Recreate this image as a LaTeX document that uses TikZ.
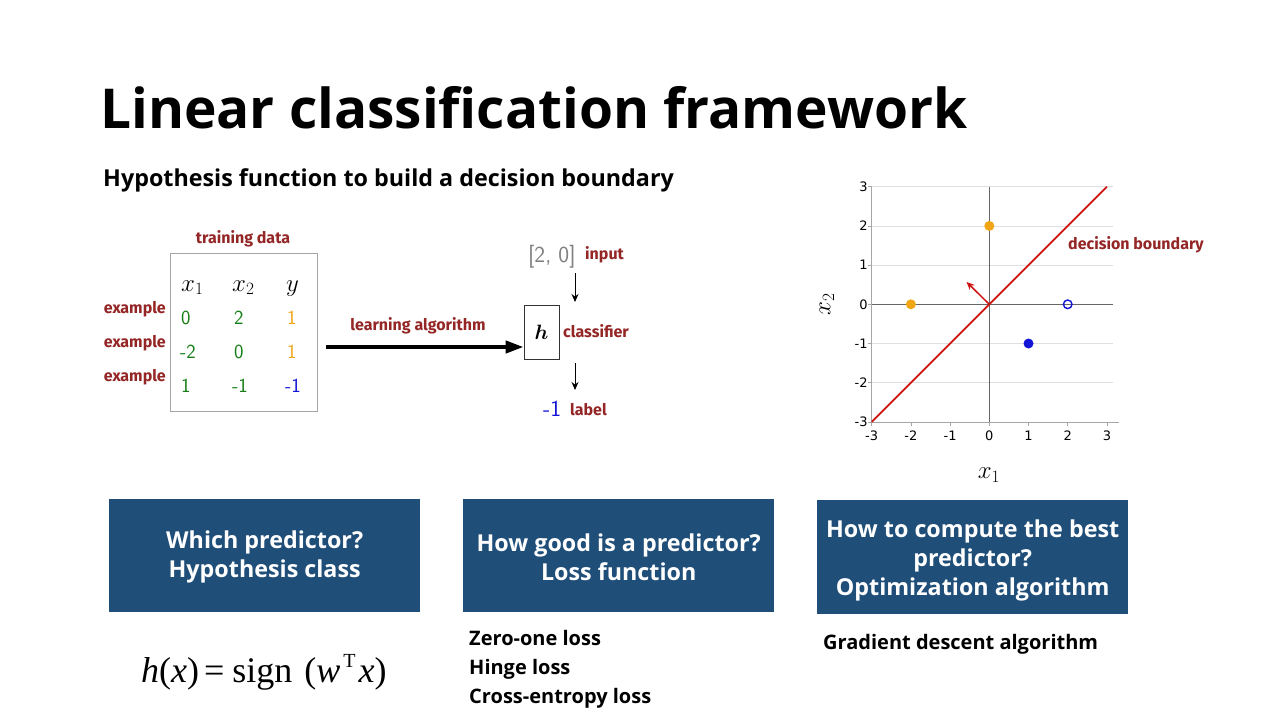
\documentclass[tikz,border=0pt]{standalone}
\usepackage{amsmath}
\usepackage{fontspec}
\setmainfont{Open Sans}
\newfontfamily\tnr{Liberation Serif}
\newfontfamily\dv{DejaVu Sans}
\newfontfamily\lblfont{Fira Sans}
\usetikzlibrary{arrows.meta}
\definecolor{dred}{RGB}{148,38,38}
\definecolor{dgreen}{RGB}{20,125,20}
\definecolor{dorange}{RGB}{240,165,20}
\definecolor{dblue}{RGB}{20,20,215}
\definecolor{boxblue}{RGB}{31,78,121}
\definecolor{pred}{RGB}{205,20,20}
\newcommand{\fs}[1]{\fontsize{#1}{#1}\selectfont}
\tikzset{
  lbl/.style={inner sep=0, text=dred, font=\fs{16}\lblfont\bfseries},
  val/.style={inner sep=0, anchor=base west, font=\fs{20}\sffamily},
  hdr/.style={inner sep=0, anchor=base west, font=\fs{24}},
  bluebox/.style={fill=boxblue, draw=none, minimum width=311pt, minimum height=113pt, anchor=north west, inner sep=0},
  boxtext/.style={text=white, align=center, font=\fontsize{23.3}{28.8}\selectfont\bfseries, inner sep=0},
  bul/.style={inner sep=0, anchor=base west, font=\fs{20}\bfseries},
  tick/.style={inner sep=0, font=\fs{13}\dv},
  arr/.style={-{Stealth[length=8pt,width=7pt]}, line width=1pt},
}
\begin{document}
\begin{tikzpicture}[x=1pt,y=-1pt]
\useasboundingbox[fill=white] (0,0) rectangle (1280,720);

% title
\node[inner sep=0, anchor=base west, font=\fs{55}\bfseries] (title) at (100,128) {Linear classification framework};
\node[inner sep=0, anchor=base west, font=\fs{23.3}\bfseries] (sub) at (103,186) {Hypothesis function to build a decision boundary};

% training data table
\node[lbl, anchor=base] (tdlbl) at (243,243) {training data};
\draw[gray!70, line width=0.8pt] (170,253) rectangle (317,411);
\node[inner sep=0, minimum width=147pt, minimum height=158pt, anchor=north west] (tbl) at (170,253) {};
\node[hdr] (hx1) at (181,291) {$x_1$};
\node[hdr] (hx2) at (232,291) {$x_2$};
\node[hdr] (hy) at (286,291) {$y$};
\node[val, text=dgreen] (a1) at (181,324) {0};
\node[val, text=dgreen] (a2) at (234,324) {2};
\node[val, text=dorange] (a3) at (287,324) {1};
\node[val, text=dgreen] (b1) at (180,358) {-2};
\node[val, text=dgreen] (b2) at (234,358) {0};
\node[val, text=dorange] (b3) at (287,358) {1};
\node[val, text=dgreen] (c1) at (181,392) {1};
\node[val, text=dgreen] (c2) at (232,392) {-1};
\node[val, text=dblue] (c3) at (285,392) {-1};
\node[lbl, anchor=base east] (e1) at (166,313) {example};
\node[lbl, anchor=base east] (e2) at (166,347) {example};
\node[lbl, anchor=base east] (e3) at (166,381) {example};

% classifier
\node[draw=black!80, line width=0.7pt, minimum width=35pt, minimum height=54pt, inner sep=0] (h) at (541.5,332) {\fs{22}$\boldsymbol{h}$};
\node[lbl, anchor=base west] (cls) at (563,337) {classifier};
\node[lbl, anchor=base] (la) at (418,330) {learning algorithm};
\coordinate (lay) at (0,347);
\draw[line width=4pt, -{Triangle[length=18pt,width=12pt]}] ([xshift=9pt]tbl.east |- lay) -- (h.west |- lay);
\node[inner sep=0, anchor=base west, text=gray, font=\fs{23}\sffamily] (inp) at (528,262) {[2,\ 0]};
\node[lbl, anchor=base west] (inplbl) at (585,259) {input};
\coordinate (ia) at (575,273);
\coordinate (ib) at (575,302);
\draw[arr] (ia) -- (ib);
\coordinate (oa) at (575,363);
\coordinate (ob) at (575,390);
\draw[arr] (oa) -- (ob);
\node[inner sep=0, anchor=base west, text=dblue, font=\fs{23}\sffamily] (out) at (543,416) {-1};
\node[lbl, anchor=base west] (outlbl) at (570,415) {label};

% plot
\begin{scope}[shift={(989.3pt,-304.3pt)}, x=39.2pt, y=39.2pt]
  \foreach \v in {1,2,3,-1,-2} \draw[gray!25, line width=0.6pt] (-3,\v) -- (3.15,\v);
  \draw[gray!70, line width=0.6pt] (-3,-3) -- (3.3,-3);
  \draw[gray!70, line width=0.6pt] (-3,-3) -- (-3,3);
  \draw[black!60, line width=0.7pt] (-3,0) -- (3.15,0);
  \draw[black!60, line width=0.7pt] (0,-3) -- (0,3);
  \foreach \v in {-3,...,3} {
    \draw[gray!70, line width=0.6pt] (\v,-3) -- ++(0,-0.1);
    \draw[gray!70, line width=0.6pt] (-3,\v) -- ++(-0.1,0);
    \node[tick, anchor=east] (yt\v) at (-3.1,\v) {\v};
    \node[tick] (xt\v) at (\v,-3.35) {\v};
  }
  \draw[pred, line width=1.8pt] (-3,-3) coordinate (db1) -- (3,3) coordinate (db2);
  \coordinate (o) at (0,0);
  \coordinate (wtip) at (-0.58,0.57);
  \draw[pred, line width=1.5pt, -{Stealth[length=8pt,width=7pt]}] (o) -- (wtip);
  \fill[dorange] (0,2) circle (5pt) node (p1) {};
  \fill[dorange] (-2,0) circle (5pt) node (p2) {};
  \fill[dblue] (1,-1) circle (5pt) node (p3) {};
  \draw[dblue, line width=1.4pt] (2,0) circle (4.3pt) node (p4) {};
\end{scope}
\node[lbl, anchor=base west] (dblbl) at (1068,249) {decision boundary};
\node[inner sep=0, rotate=90, font=\fs{24}] (ax2) at (827,304) {$x_2$};
\node[inner sep=0, font=\fs{24}] (ax1) at (989,475) {$x_1$};

% boxes
\node[bluebox] (b1box) at (109,499) {};
\node[boxtext] (b1txt) at ([yshift=-1.5pt]b1box.center) {Which predictor?\\Hypothesis class};
\node[bluebox] (b2box) at (463,499) {};
\node[boxtext] (b2txt) at ([yshift=-1.5pt]b2box.center) {How good is a predictor?\\Loss function};
\node[bluebox, minimum height=114pt] (b3box) at (817,500) {};
\node[boxtext] (b3txt) at ([yshift=-3pt]b3box.center) {How to compute the best\\predictor?\\Optimization algorithm};

% bottom texts
\node[inner sep=0, anchor=base west, font=\fs{36}\tnr] (formula) at (141,682)
  {\textit{h}(\textit{x})\hspace{5pt}=\hspace{8pt}sign\hspace{12pt}(\textit{w}\hspace{3pt}\raisebox{15pt}{\fs{20}T}\hspace{3pt}\textit{x})};
\node[bul] (l1) at (469,645) {Zero-one loss};
\node[bul] (l2) at (469,674) {Hinge loss};
\node[bul] (l3) at (469,703) {Cross-entropy loss};
\node[bul] (g1) at (823,649) {Gradient descent algorithm};
\end{tikzpicture}
\end{document}
